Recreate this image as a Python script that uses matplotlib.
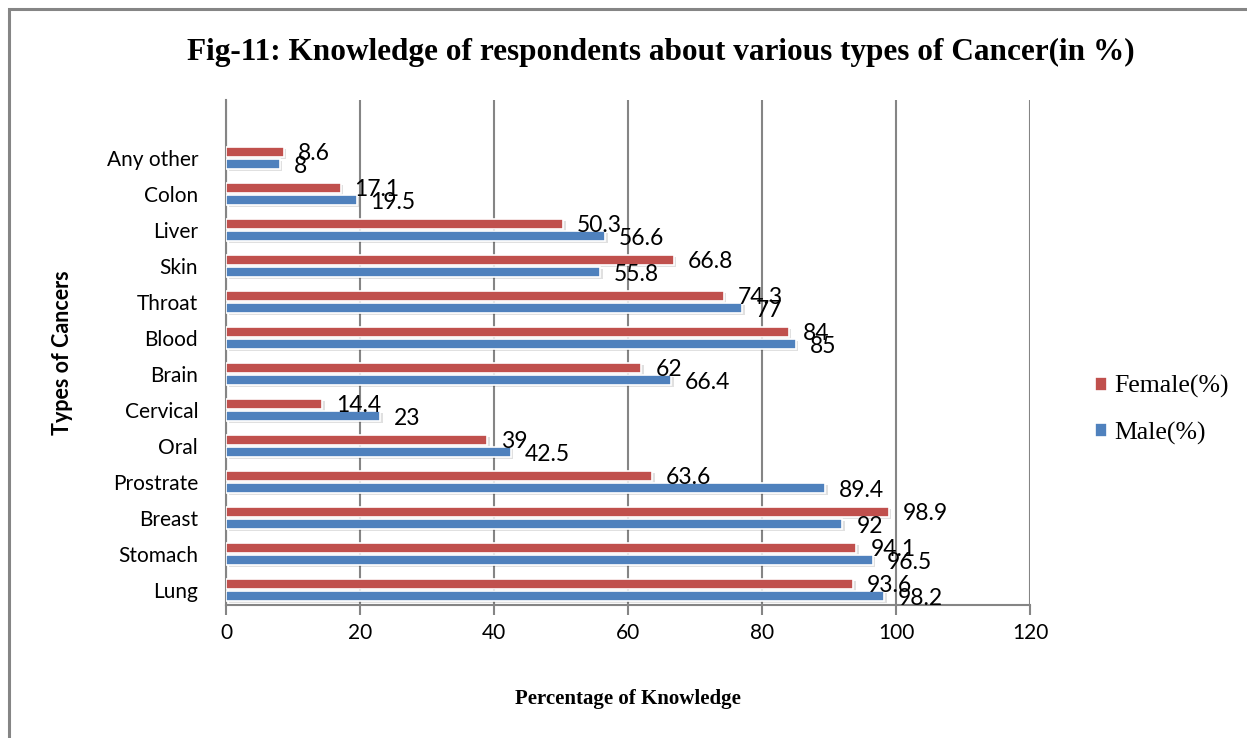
import numpy as np
import matplotlib.pyplot as plt
from matplotlib.patches import Rectangle

# knowledge about cancer types, bottom to top
cancers = ['Lung', 'Stomach', 'Breast', 'Prostrate', 'Oral', 'Cervical', 'Brain',
           'Blood', 'Throat', 'Skin', 'Liver', 'Colon', 'Any other']
female = [93.6, 94.1, 98.9, 63.6, 39, 14.4, 62, 84, 74.3, 66.8, 50.3, 17.1, 8.6]
male = [98.2, 96.5, 92, 89.4, 42.5, 23, 66.4, 85, 77, 55.8, 56.6, 19.5, 8]
x_ticks = [0, 20, 40, 60, 80, 100, 120]

RED = '#C0504D'
BLUE = '#4F81BD'
SANS = 'Lato'
SERIF = 'Liberation Serif'

fig = plt.figure(figsize=(12.47, 7.38), dpi=100)
fig.patch.set_facecolor('white')

# outer chart border (runs off the right and bottom edges)
fig.patches.append(Rectangle((9 / 1247, -0.05), 1.1, 1 - 9 / 738 + 0.05,
                             transform=fig.transFigure, fill=False,
                             edgecolor='#858585', linewidth=2.2))

ax = fig.add_axes([226 / 1247, 1 - 605 / 738, 804 / 1247, 505 / 738])

y = np.arange(len(cancers))
h = 0.29
off = 0.17

# soft drop shadow under each bar
for vals, dy in ((female, off), (male, -off)):
    ax.barh(y + dy - 0.06, vals, height=h, left=0.4, color='#000000', alpha=0.12,
            linewidth=0, zorder=2)

ax.barh(y + off, female, height=h, color=RED, edgecolor='white', linewidth=1.2,
        zorder=3, label='Female(%)')
ax.barh(y - off, male, height=h, color=BLUE, edgecolor='white', linewidth=1.2,
        zorder=3, label='Male(%)')

# value labels a little past the bar ends
for yi, v in zip(y, female):
    ax.annotate(f'{v:g}', (v, yi + off - 0.05), xytext=(10, 0),
                textcoords='offset points', fontsize=16.5, family=SANS,
                ha='left', va='center', zorder=5)
for yi, v in zip(y, male):
    ax.annotate(f'{v:g}', (v, yi - off - 0.06), xytext=(10, 0),
                textcoords='offset points', fontsize=16.5, family=SANS,
                ha='left', va='center', zorder=5)

ax.set_xlim(0, 120)
ax.set_ylim(-0.417, 13.61)
ax.set_xticks(x_ticks)
ax.set_xticklabels([str(t) for t in x_ticks], family=SANS, fontsize=15)
ax.set_yticks(y)
ax.set_yticklabels(cancers, family=SANS, fontsize=15)
ax.tick_params(axis='y', length=0, pad=20)
ax.tick_params(axis='x', length=7, width=1.5, color='#858585', pad=6)

ax.grid(axis='x', color='#858585', linewidth=1.5, zorder=1)
ax.set_axisbelow(True)
for s in ('top', 'right'):
    ax.spines[s].set_visible(False)
for s in ('left', 'bottom'):
    ax.spines[s].set_color('#858585')
    ax.spines[s].set_linewidth(1.5)

ax.set_xlabel('Percentage of Knowledge', family=SERIF, fontweight='bold',
              fontsize=15, labelpad=33)
ax.set_ylabel('Types of Cancers', family=SANS, fontweight='bold', fontsize=15.5,
              labelpad=24)

fig.text(661 / 1247, 1 - 52 / 738,
         'Fig-11: Knowledge of respondents about various types of Cancer(in %)',
         family=SERIF, fontweight='bold', fontsize=22.5, ha='center', va='center')

fig.legend(loc='center left', bbox_to_anchor=(1072 / 1247, 1 - 410 / 738),
           frameon=False, prop={'family': SERIF, 'size': 18.5}, handlelength=0.45,
           handleheight=0.45, handletextpad=0.3, labelspacing=0.9)

fig.savefig('out.png', dpi=100, facecolor='white')
